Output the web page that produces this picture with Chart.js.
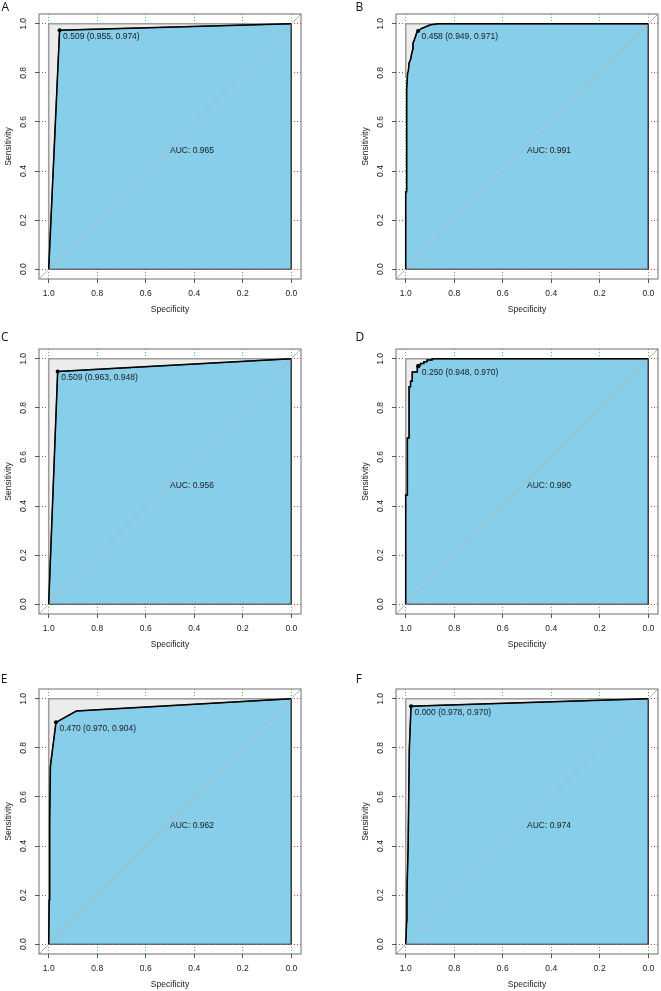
<!DOCTYPE html>
<html>
<head>
<meta charset="utf-8">
<title>ROC curves A-F</title>
<script src="https://cdn.jsdelivr.net/npm/chart.js@4.4.1/dist/chart.umd.min.js"></script>
<style>
  html, body { margin: 0; padding: 0; background: #fff; overflow: hidden; }
  body { width: 661px; height: 991px; position: relative; }
  .panel { position: absolute; width: 305px; height: 316px; }
  .letter { position: absolute; font-family: "Open Sans", sans-serif; font-size: 12px; line-height: 12px; color: #111; }
</style>
</head>
<body>
<script>
/* ---- data ---- */
const panelLetters = ['A', 'B', 'C', 'D', 'E', 'F'];
const tickValues = [0, 0.2, 0.4, 0.6, 0.8, 1.0];
const axisRange = [-0.04, 1.04];

const aucValues = [0.965, 0.991, 0.956, 0.990, 0.962, 0.974];
const bestThreshold = [0.509, 0.458, 0.509, 0.250, 0.470, 0.000];
const bestSpec = [0.955, 0.949, 0.963, 0.948, 0.970, 0.978];
const bestSens = [0.974, 0.971, 0.948, 0.970, 0.904, 0.970];

// ROC curves (specificity, sensitivity)
const specA = [1, 0.955, 0];
const sensA = [0, 0.974, 1];
const specB = [1, 1, 0.996, 0.996, 0.992, 0.989, 0.986, 0.980, 0.976, 0.971, 0.970, 0.966, 0.963, 0.958, 0.955, 0.949, 0.932, 0.922, 0.912, 0.898, 0.864, 0];
const sensB = [0, 0.316, 0.316, 0.734, 0.800, 0.807, 0.841, 0.854, 0.875, 0.895, 0.922, 0.929, 0.939, 0.952, 0.963, 0.971, 0.982, 0.986, 0.990, 0.996, 1, 1];
const specC = [1, 0.963, 0];
const sensC = [0, 0.948, 1];
const specD = [1, 1, 0.993, 0.993, 0.986, 0.986, 0.980, 0.980, 0.973, 0.973, 0.952, 0.952, 0.939, 0.939, 0.925, 0.925, 0.912, 0.912, 0.891, 0.891, 0];
const sensD = [0, 0.445, 0.445, 0.677, 0.677, 0.886, 0.886, 0.909, 0.909, 0.946, 0.946, 0.975, 0.975, 0.981, 0.981, 0.988, 0.988, 0.995, 0.995, 1, 1];
const specE = [1, 0.998, 0.996, 0.993, 0.970, 0.886, 0];
const sensE = [0, 0.180, 0.500, 0.725, 0.904, 0.950, 1];
const specF = [1, 0.996, 0.995, 0.990, 0.985, 0.978, 0];
const sensF = [0, 0.094, 0.203, 0.394, 0.796, 0.970, 1];

// upper bound of the shaded CI band
const ciSpecAll = [1, 1, 0];
const ciSensA = [0, 1, 1];
const ciSensB = [0.78, 1, 1];
const ciSensC = [0, 1, 1];
const ciSensD = [0.44, 1, 1];
const ciSensE = [0, 1, 1];
const ciSensF = [0.05, 1, 1];

const curves = [
  [specA, sensA, ciSensA], [specB, sensB, ciSensB], [specC, sensC, ciSensC],
  [specD, sensD, ciSensD], [specE, sensE, ciSensE], [specF, sensF, ciSensF]
];

/* ---- layout ---- */
const colLeft = [0.3, 356.7];
const rowTop = [0.3, 335.3, 675];
const letterPos = [[1.5, 1.2], [355.5, 1.2], [1, 331.2], [355.5, 331.2], [0.8, 672.9], [355.8, 672.9]];

const txtFont = { family: "'Liberation Sans', Arial, sans-serif", size: 8.5 };
const txtColor = '#1a1a1a';

const toPts = (xs, ys) => xs.map((v, i) => ({ x: v, y: ys[i] }));

const rocDecor = {
  id: 'rocDecor',
  afterDatasetsDraw(chart, args, opts) {
    const { ctx, chartArea: a, scales: { x, y } } = chart;
    const i = opts.index;
    ctx.save();
    // box
    ctx.strokeStyle = '#6f6f6f';
    ctx.lineWidth = 1;
    ctx.strokeRect(a.left, a.top, a.width, a.height);
    // texts
    ctx.fillStyle = txtColor;
    ctx.font = txtFont.size + 'px ' + txtFont.family;
    ctx.textAlign = 'left';
    ctx.textBaseline = 'middle';
    ctx.fillText('AUC: ' + aucValues[i].toFixed(3), x.getPixelForValue(0.5), y.getPixelForValue(0.5) + 4);
    const px = x.getPixelForValue(bestSpec[i]);
    const py = y.getPixelForValue(bestSens[i]);
    ctx.fillText(bestThreshold[i].toFixed(3) + ' (' + bestSpec[i].toFixed(3) + ', ' + bestSens[i].toFixed(3) + ')', px + 3.5, py + 6);
    ctx.restore();
  }
};

function setTicks(scale) {
  scale.ticks = tickValues.map(v => ({ value: v }));
}

panelLetters.forEach((letter, i) => {
  const row = Math.floor(i / 2), col = i % 2;
  const holder = document.createElement('div');
  holder.className = 'panel';
  holder.style.left = colLeft[col] + 'px';
  holder.style.top = rowTop[row] + 'px';
  const canvas = document.createElement('canvas');
  canvas.width = 305;
  canvas.height = 316;
  holder.appendChild(canvas);
  document.body.appendChild(holder);

  const lab = document.createElement('div');
  lab.className = 'letter';
  lab.textContent = letter;
  lab.style.left = letterPos[i][0] + 'px';
  lab.style.top = letterPos[i][1] + 'px';
  document.body.appendChild(lab);

  const [spec, sens, ciSens] = curves[i];
  const curve = toPts(spec, sens);
  // close the AUC polygon through the bottom-right corner and back to the start
  const auc = curve.concat([{ x: tickValues[0], y: tickValues[0] }, curve[0]]);
  const band = toPts(ciSpecAll, ciSens).concat(curve.slice().reverse());
  const diag = [{ x: axisRange[1], y: axisRange[0] }, { x: axisRange[0], y: axisRange[1] }];

  new Chart(canvas, {
    type: 'scatter',
    data: {
      datasets: [
        { data: [{ x: bestSpec[i], y: bestSens[i] }], pointRadius: 2, pointBackgroundColor: '#000', pointBorderWidth: 0, showLine: false, order: 0 },
        { data: curve, showLine: true, borderColor: '#000', borderWidth: 1.5, pointRadius: 0, fill: false, order: 1 },
        { data: diag, showLine: true, borderColor: '#b4b4b4', borderWidth: 1, pointRadius: 0, fill: false, order: 2 },
        { data: auc, showLine: true, borderColor: '#3c3c3c', borderWidth: 1, backgroundColor: '#87ceeb', pointRadius: 0, fill: 'shape', order: 3 },
        { data: band, showLine: true, borderColor: '#9c9c9c', borderWidth: 1.5, backgroundColor: '#ececec', pointRadius: 0, fill: 'shape', order: 4 }
      ]
    },
    options: {
      responsive: false,
      animation: false,
      events: [],
      layout: { padding: { top: 14, left: 0, right: 1, bottom: 1 } },
      plugins: { legend: { display: false }, tooltip: { enabled: false }, rocDecor: { index: i } },
      scales: {
        x: {
          type: 'linear', reverse: true, min: axisRange[0], max: axisRange[1],
          afterBuildTicks: setTicks,
          afterFit: s => { s.height = 36; },
          ticks: { autoSkip: false, minRotation: 0, maxRotation: 0, padding: 6, color: txtColor, font: txtFont, callback: v => v.toFixed(1) },
          grid: { color: '#33dd33', lineWidth: 1, borderDash: [1, 2], tickLength: 4, tickColor: '#555', tickWidth: 1, tickBorderDash: [] },
          border: { display: false, dash: [1, 2] },
          title: { display: true, text: 'Specificity', color: txtColor, font: txtFont, padding: { top: 0, bottom: 0.4 } }
        },
        y: {
          type: 'linear', min: axisRange[0], max: axisRange[1],
          afterBuildTicks: setTicks,
          afterFit: s => { s.width = 39; },
          ticks: { autoSkip: false, minRotation: 90, maxRotation: 90, crossAlign: 'center', padding: 5, color: txtColor, font: txtFont, callback: v => v.toFixed(1) },
          grid: { color: '#ee3333', lineWidth: 1, borderDash: [1, 2], tickLength: 4, tickColor: '#555', tickWidth: 1, tickBorderDash: [] },
          border: { display: false, dash: [1, 2] },
          title: { display: true, text: 'Sensitivity', color: txtColor, font: txtFont, padding: { top: 4, bottom: 0 } }
        }
      }
    },
    plugins: [rocDecor]
  });
});
</script>
</body>
</html>
